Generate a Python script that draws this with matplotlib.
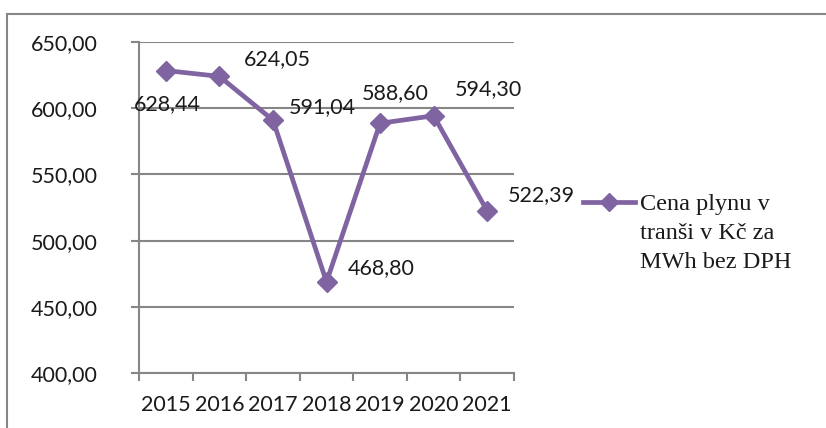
import matplotlib
matplotlib.use("Agg")
import matplotlib.pyplot as plt
from matplotlib.lines import Line2D

years = ["2015", "2016", "2017", "2018", "2019", "2020", "2021"]
prices = [628.44, 624.05, 591.04, 468.80, 588.60, 594.30, 522.39]
price_labels = ["628,44", "624,05", "591,04", "468,80", "588,60", "594,30", "522,39"]
y_ticks = [400, 450, 500, 550, 600, 650]
y_tick_labels = ["400,00", "450,00", "500,00", "550,00", "600,00", "650,00"]
series_name = "Cena plynu v\ntranši v Kč za\nMWh bez DPH"

# label offsets (pixels, centre of text relative to the point)
label_offsets = [(2, -34), (58, 17), (49, 13), (55, 14), (15, 30), (55, 27), (54, 16)]

W, H = 826, 428
DPI = 100
fig = plt.figure(figsize=(W / DPI, H / DPI), dpi=DPI)
ax = fig.add_axes([139 / W, 1 - 373 / H, (514 - 139) / W, (373 - 42) / H])

purple = "#8064A2"
gray = "#868686"
txt = "#1a1a1a"
sans = ["Lato", "DejaVu Sans"]
fs = 15.5

x = list(range(len(years)))
ax.plot(x, prices, color=purple, lw=3.4, marker="D", markersize=10.5,
        markerfacecolor=purple, markeredgecolor=purple, zorder=3, clip_on=False)

ax.set_xlim(-0.5, len(years) - 0.5)
ax.set_ylim(400, 650)
ax.set_yticks(y_ticks)
ax.set_yticklabels(y_tick_labels, fontsize=fs, family=sans, color=txt)
ax.yaxis.grid(True, color=gray, lw=1.5)
ax.set_axisbelow(True)

ax.set_xticks(x)
ax.set_xticklabels(years, fontsize=fs, family=sans, color=txt)
ax.set_xticks([i - 0.5 for i in range(len(years) + 1)], minor=True)
ax.tick_params(axis="x", which="major", length=0, pad=16)
ax.tick_params(axis="x", which="minor", length=5.5, width=1.5, color=gray)
ax.tick_params(axis="y", length=5.5, width=1.5, color=gray, pad=24)

for s in ["top", "right"]:
    ax.spines[s].set_visible(False)
for s in ["left", "bottom"]:
    ax.spines[s].set_color(gray)
    ax.spines[s].set_linewidth(1.5)

for xi, yi, lab, (dx, dy) in zip(x, prices, price_labels, label_offsets):
    ax.annotate(lab, (xi, yi), xytext=(dx, dy), textcoords="offset pixels",
                ha="center", va="center", fontsize=fs, family=sans, color=txt)

# legend
leg_y = 1 - 202 / H
fig.add_artist(Line2D([583 / W, 635 / W], [leg_y, leg_y], color=purple, lw=3.4))
fig.add_artist(Line2D([609 / W], [leg_y], color=purple, marker="D", markersize=9, lw=0))
fig.text(640 / W, 1 - 194 / H, series_name, ha="left", va="top",
         fontsize=17.5, family=["Liberation Serif", "DejaVu Serif"], color=txt,
         linespacing=1.5)

# chart border (top and left visible)
fig.add_artist(Line2D([7 / W, 1], [1 - 14 / H, 1 - 14 / H], color=gray, lw=1.5))
fig.add_artist(Line2D([7 / W, 7 / W], [0, 1 - 14 / H], color=gray, lw=1.5))

fig.savefig("out.png", dpi=DPI)
